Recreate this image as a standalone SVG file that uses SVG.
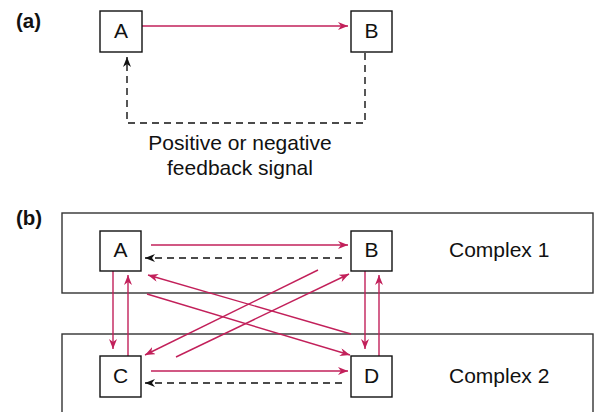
<svg xmlns="http://www.w3.org/2000/svg" width="594" height="412" viewBox="0 0 594 412">
  <defs>
    <marker id="headRed" markerWidth="11" markerHeight="9" refX="10" refY="4" orient="auto" markerUnits="userSpaceOnUse">
      <path d="M0,0 L10,4 L0,8 L3,4 z" fill="#c2205a"/>
    </marker>
    <marker id="headBlack" markerWidth="11" markerHeight="9" refX="10" refY="4" orient="auto" markerUnits="userSpaceOnUse">
      <path d="M0,0 L10,4 L0,8 L3,4 z" fill="#111"/>
    </marker>
  </defs>
  <style>
    .box { fill: #fff; stroke: #111; stroke-width: 1.4; }
    .panel { fill: none; stroke: #333; stroke-width: 1.4; }
    .lbl { font-family: "Liberation Sans", Arial, sans-serif; font-size: 21px; fill: #111; }
    .tag { font-family: "Liberation Sans", Arial, sans-serif; font-size: 20.5px; font-weight: bold; fill: #111; }
    .red { fill: none; stroke: #c2205a; stroke-width: 1.4; marker-end: url(#headRed); }
    .dash { fill: none; stroke: #111; stroke-width: 1.4; stroke-dasharray: 7 5; marker-end: url(#headBlack); }
  </style>

  <rect width="594" height="412" fill="#fff"/>

  <!-- panel tags -->
  <text class="tag" x="16" y="28">(a)</text>
  <text class="tag" x="16" y="225">(b)</text>

  <!-- complex frames -->
  <rect class="panel" x="62" y="213" width="531" height="80"/>
  <rect class="panel" x="62" y="334" width="531" height="90"/>
  <text class="lbl" x="449" y="257">Complex 1</text>
  <text class="lbl" x="449" y="383">Complex 2</text>

  <g id="connectors">
    <!-- (a) -->
    <line class="red" x1="142" y1="26" x2="348" y2="26"/>
    <path class="dash" d="M365,53 V123 H127 V57"/>
    <!-- (b) horizontal -->
    <line class="red" x1="151" y1="245" x2="348" y2="245"/>
    <line class="dash" x1="342" y1="258" x2="145" y2="258"/>
    <line class="red" x1="151" y1="371" x2="348" y2="371"/>
    <line class="dash" x1="342" y1="383" x2="145" y2="383"/>
    <!-- (b) vertical -->
    <line class="red" x1="113" y1="271" x2="113" y2="349"/>
    <line class="red" x1="128" y1="356" x2="128" y2="275"/>
    <line class="red" x1="365" y1="271" x2="365" y2="349"/>
    <line class="red" x1="379" y1="356" x2="379" y2="275"/>
    <!-- (b) diagonal -->
    <line class="red" x1="147" y1="294" x2="350" y2="355"/>
    <line class="red" x1="351" y1="334" x2="148" y2="275"/>
    <line class="red" x1="176" y1="357" x2="349" y2="274"/>
    <line class="red" x1="318" y1="270" x2="145" y2="355"/>
  </g>

  <g id="node-a1">
    <rect class="box" x="100" y="11" width="42" height="41"/>
    <text class="lbl" x="121" y="38" text-anchor="middle">A</text>
  </g>
  <g id="node-b1">
    <rect class="box" x="351" y="11" width="41" height="41"/>
    <text class="lbl" x="371.5" y="38" text-anchor="middle">B</text>
  </g>
  <g id="feedback-label">
    <text class="lbl" x="240" y="150" text-anchor="middle">Positive or negative</text>
    <text class="lbl" x="240" y="175" text-anchor="middle">feedback signal</text>
  </g>

  <g id="node-a2">
    <rect class="box" x="100" y="231" width="41" height="40"/>
    <text class="lbl" x="120.5" y="257" text-anchor="middle">A</text>
  </g>
  <g id="node-b2">
    <rect class="box" x="351" y="231" width="41" height="40"/>
    <text class="lbl" x="371.5" y="257" text-anchor="middle">B</text>
  </g>
  <g id="node-c">
    <rect class="box" x="100" y="356" width="41" height="41"/>
    <text class="lbl" x="120.5" y="383" text-anchor="middle">C</text>
  </g>
  <g id="node-d">
    <rect class="box" x="351" y="356" width="41" height="41"/>
    <text class="lbl" x="371.5" y="383" text-anchor="middle">D</text>
  </g>
</svg>
